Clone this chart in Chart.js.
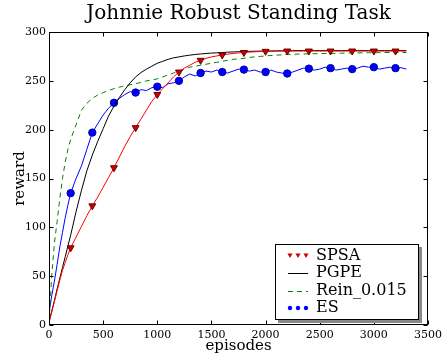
<!DOCTYPE html>
<html>
<head>
<meta charset="utf-8">
<script src="https://cdn.jsdelivr.net/npm/chart.js@4"></script>
<style>
    html, body { margin: 0; padding: 0; background: #fff; }
</style>
</head>
<body>
<canvas id="johnnieChart" width="442" height="356"></canvas>
<script>
const episodes = [0, 25, 50, 75, 100, 125, 150, 175, 200, 250, 300, 350, 400, 450, 500, 550, 600, 650, 700, 750,
    800, 850, 900, 950, 1000, 1050, 1100, 1150, 1200, 1250, 1300, 1350, 1400, 1450, 1500, 1550, 1600, 1650, 1700, 1750,
    1800, 1850, 1900, 1950, 2000, 2050, 2100, 2150, 2200, 2250, 2300, 2350, 2400, 2450, 2500, 2550, 2600, 2650, 2700, 2750,
    2800, 2850, 2900, 2950, 3000, 3050, 3100, 3150, 3200, 3250, 3300];

const spsaReward = [3, 13, 24, 35, 46, 56, 64, 72, 79, 90, 101, 112, 122, 131, 141, 151, 161, 172, 183, 193,
    202, 211, 220, 229, 236, 242, 248, 254, 259, 263, 266, 269, 271, 273, 274.5, 275.5, 276.5, 277.3, 278, 278.6,
    279, 279.4, 279.7, 280, 280.2, 280.3, 280.4, 280.5, 280.5, 280.5, 280.5, 280.5, 280.5, 280.5, 280.5, 280.5, 280.5, 280.5, 280.5, 280.5,
    280.5, 280.5, 280.5, 280.5, 280.5, 280.5, 280.5, 280.5, 280.5, 280.5, 280.5];

const pgpeReward = [3, 14, 25, 37, 48, 59, 70, 81, 92, 116, 138, 158, 174, 188, 201, 214, 224, 233, 241, 248,
    254, 258.5, 262, 265, 268, 270, 272, 273.5, 274.5, 275.5, 276.3, 277, 277.5, 278, 278.4, 278.7, 279, 279.3, 279.6, 279.8,
    280, 280.2, 280.3, 280.4, 280.5, 280.6, 280.7, 280.8, 280.8, 280.9, 281, 281, 281, 281, 281, 281, 281, 281, 281, 281,
    281, 281, 281, 281, 281, 281, 281, 281, 281, 281, 281];

const reinReward = [2, 50, 84, 106, 130, 150, 167, 180, 190, 205, 220, 227, 232, 235.5, 238, 240, 242, 243.5, 245, 246,
    247, 248.5, 250, 251, 252, 254, 256, 258, 260, 262, 264, 265, 266, 267, 268, 269, 270, 271, 272, 272.5,
    273, 274, 274.5, 275, 275.5, 276, 276.3, 276.6, 277, 277.2, 277.4, 277.5, 277.6, 277.8, 277.9, 278, 278, 278.2, 278.3, 278.4,
    278.5, 278.6, 278.7, 278.8, 278.8, 278.9, 279, 279, 279, 279, 279];

const esReward = [12, 30, 45, 62, 80, 95, 110, 123, 135, 150, 163, 180, 197, 206, 215, 222, 227.5, 232, 236, 239,
    238, 241, 240, 243, 244, 243, 247, 248, 250, 254, 257, 255, 258, 260, 259, 261, 259, 258, 260, 262,
    261.5, 260, 261, 259, 259, 261, 259, 258, 257.5, 259, 261, 263, 262.5, 261, 262, 264, 263, 261, 262, 263,
    262, 263, 265, 264, 264, 262, 263, 264, 263, 263.5, 262];

const xTicks = [0, 500, 1000, 1500, 2000, 2500, 3000, 3500];
const yTicks = [0, 50, 100, 150, 200, 250, 300];
const markerEvery = 200;

const serif = "'DejaVu Serif', 'Liberation Serif', serif";

function toPoints(values) {
    return episodes.map((ep, i) => ({ x: ep, y: values[i] }));
}

function markerRadius(r) {
    return ctx => {
        const ep = episodes[ctx.dataIndex];
        return ep > 0 && ep % markerEvery === 0 ? r : 0;
    };
}

// frame with inward ticks on all four sides, plus the boxed legend
const frameAndLegend = {
    id: 'frameAndLegend',
    afterDatasetsDraw(chart) {
        const ctx = chart.ctx;
        const a = chart.chartArea;
        const xs = chart.scales.x;
        const ys = chart.scales.y;
        const L = Math.round(a.left) + 0.5, R = Math.round(a.right) - 0.5;
        const T = Math.round(a.top) + 0.5, B = Math.round(a.bottom) - 0.5;

        ctx.save();
        ctx.strokeStyle = '#000';
        ctx.lineWidth = 1;
        ctx.strokeRect(L, T, R - L, B - T);

        ctx.beginPath();
        xTicks.forEach(v => {
            const px = Math.round(xs.getPixelForValue(v)) + 0.5;
            ctx.moveTo(px, B); ctx.lineTo(px, B - 4);
            ctx.moveTo(px, T); ctx.lineTo(px, T + 4);
        });
        yTicks.forEach(v => {
            const py = Math.round(ys.getPixelForValue(v)) + 0.5;
            ctx.moveTo(L, py); ctx.lineTo(L + 4, py);
            ctx.moveTo(R, py); ctx.lineTo(R - 4, py);
        });
        ctx.stroke();

        // legend box
        const bw = 144, bh = 76;
        const bx = Math.round(a.right) - 9 - bw;
        const by = Math.round(a.bottom) - 5 - bh;
        ctx.fillStyle = '#888';
        ctx.fillRect(bx + 3, by + 3, bw, bh);
        ctx.fillStyle = '#fff';
        ctx.fillRect(bx, by, bw, bh);
        ctx.strokeStyle = '#000';
        ctx.strokeRect(bx + 0.5, by + 0.5, bw - 1, bh - 1);

        const entries = [
            { label: 'SPSA', kind: 'tri', color: 'rgb(204,0,0)' },
            { label: 'PGPE', kind: 'line', color: '#000', dash: [] },
            { label: 'Rein_0.015', kind: 'line', color: '#008000', dash: [5, 4] },
            { label: 'ES', kind: 'dot', color: '#0000ff' }
        ];
        ctx.font = '16px ' + serif;
        ctx.textBaseline = 'middle';
        entries.forEach((e, i) => {
            const y = by + 11.5 + i * 17.5;
            const x0 = bx + 13, x1 = bx + 33;
            if (e.kind === 'line') {
                ctx.strokeStyle = e.color;
                ctx.setLineDash(e.dash);
                ctx.beginPath();
                ctx.moveTo(x0, Math.round(y) + 0.5);
                ctx.lineTo(x1, Math.round(y) + 0.5);
                ctx.stroke();
                ctx.setLineDash([]);
            } else {
                [x0 + 2, x0 + 10, x0 + 18].forEach(mx => {
                    ctx.fillStyle = e.color;
                    ctx.beginPath();
                    if (e.kind === 'tri') {
                        ctx.moveTo(mx - 2.5, y - 2);
                        ctx.lineTo(mx + 2.5, y - 2);
                        ctx.lineTo(mx, y + 2.5);
                        ctx.closePath();
                    } else {
                        ctx.arc(mx, y, 2.2, 0, Math.PI * 2);
                    }
                    ctx.fill();
                });
            }
            ctx.fillStyle = '#000';
            ctx.fillText(e.label, bx + 41, y);
        });
        ctx.restore();
    }
};

const ctx = document.getElementById('johnnieChart').getContext('2d');

new Chart(ctx, {
    type: 'line',
    data: {
        datasets: [
            {
                label: 'SPSA',
                data: toPoints(spsaReward),
                borderColor: '#ff0000',
                borderWidth: 1,
                pointStyle: 'triangle',
                rotation: 180,
                pointRadius: markerRadius(4),
                pointBackgroundColor: 'rgb(204,0,0)',
                pointBorderColor: 'rgb(110,0,0)',
                pointBorderWidth: 1,
                tension: 0
            },
            {
                label: 'PGPE',
                data: toPoints(pgpeReward),
                borderColor: '#000000',
                borderWidth: 1,
                pointRadius: 0,
                tension: 0
            },
            {
                label: 'Rein_0.015',
                data: toPoints(reinReward),
                borderColor: '#008000',
                borderWidth: 1,
                borderDash: [5, 4],
                pointRadius: 0,
                tension: 0
            },
            {
                label: 'ES',
                data: toPoints(esReward),
                borderColor: '#0000ff',
                borderWidth: 1,
                pointStyle: 'circle',
                pointRadius: markerRadius(3.7),
                pointBackgroundColor: '#0000ff',
                pointBorderColor: '#0000a0',
                pointBorderWidth: 1,
                tension: 0
            }
        ]
    },
    options: {
        responsive: false,
        animation: false,
        events: [],
        layout: { padding: 0 },
        scales: {
            x: {
                type: 'linear',
                min: 0,
                max: 3500,
                afterBuildTicks: scale => { scale.ticks = xTicks.map(v => ({ value: v })); },
                afterFit: scale => { scale.height = 31; scale.paddingRight = 14; scale.paddingLeft = 0; },
                grid: { display: false, drawTicks: false },
                border: { display: false },
                ticks: {
                    color: '#000', padding: 4, maxRotation: 0,
                    font: { family: serif, size: 11 },
                    callback: v => String(v)
                },
                title: {
                    display: true,
                    text: 'episodes',
                    color: '#000',
                    padding: { top: 0, bottom: 1 },
                    font: { family: serif, size: 15 }
                }
            },
            y: {
                min: 0,
                max: 300,
                afterBuildTicks: scale => { scale.ticks = yTicks.map(v => ({ value: v })); },
                afterFit: scale => { scale.width = 49; },
                grid: { display: false, drawTicks: false },
                border: { display: false },
                ticks: {
                    color: '#000', padding: 3,
                    font: { family: serif, size: 11 },
                    callback: v => String(v)
                },
                title: {
                    display: true,
                    text: 'reward',
                    color: '#000',
                    padding: { top: 11, bottom: 0 },
                    font: { family: serif, size: 15 }
                }
            }
        },
        plugins: {
            legend: { display: false },
            tooltip: { enabled: false },
            title: {
                display: true,
                text: 'Johnnie Robust Standing Task',
                fullSize: false,
                color: '#000',
                padding: { top: 2, bottom: 6 },
                font: { family: serif, size: 20, weight: 'normal' }
            }
        }
    },
    plugins: [frameAndLegend]
});
</script>
</body>
</html>
